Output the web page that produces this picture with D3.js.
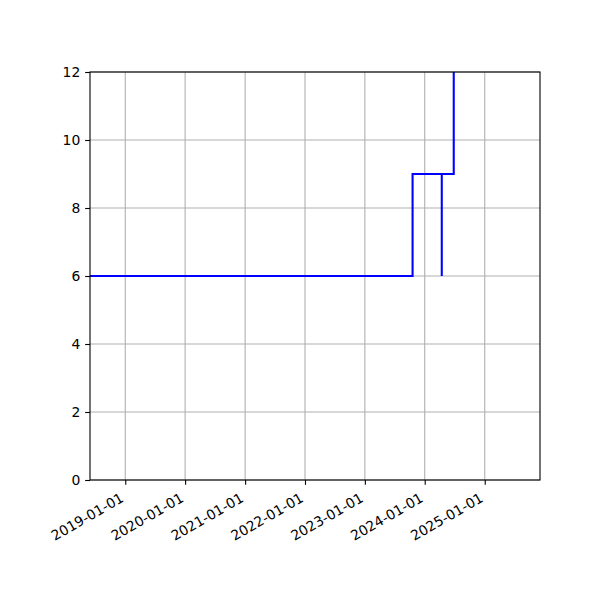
<!DOCTYPE html>
<html>
<head>
<meta charset="utf-8">
<script src="https://cdn.jsdelivr.net/npm/d3@7"></script>
<style>
  body { margin: 0; background: #fff; }
  text { font-family: "DejaVu Sans", sans-serif; font-size: 13.9px; fill: #000; }
</style>
</head>
<body>
<div class="chart"></div>
<script>
// step series (value holds until next date)
const dates = ['2018-05-31', '2023-10-19', '2024-04-14', '2024-04-14', '2024-06-26', '2025-12-04'];
const values = [6, 9, 6, 9, 15, 15];
const xTicks = ['2019-01-01', '2020-01-01', '2021-01-01', '2022-01-01', '2023-01-01', '2024-01-01', '2025-01-01'];
const yTicks = [0, 2, 4, 6, 8, 10, 12];
const xLimits = ['2018-05-31', '2025-12-04'];
const yLimits = [0, 12];

const parseDate = d3.timeParse('%Y-%m-%d');
const fmt = d3.timeFormat('%Y-%m-%d');
const data = dates.map((d, i) => ({ date: parseDate(d), value: values[i] }));

const svg_width = 600, svg_height = 600;
const margin = { top: 72, right: 60, bottom: 120, left: 90 };
const width = svg_width - margin.left - margin.right;
const height = svg_height - margin.top - margin.bottom;
const tickLen = 4.86, tickPad = 4.86;

const svg = d3.select('.chart').append('svg')
  .attr('width', svg_width).attr('height', svg_height);
const g = svg.append('g').attr('transform', `translate(${margin.left},${margin.top})`);

const x = d3.scaleTime().domain(xLimits.map(parseDate)).range([0, width]);
const y = d3.scaleLinear().domain(yLimits).range([height, 0]);

// grid
g.append('g').selectAll('line').data(xTicks.map(parseDate)).join('line')
  .attr('x1', d => x(d)).attr('x2', d => x(d)).attr('y1', 0).attr('y2', height)
  .attr('stroke', '#b0b0b0').attr('stroke-width', 1.1);
g.append('g').selectAll('line').data(yTicks).join('line')
  .attr('x1', 0).attr('x2', width).attr('y1', d => y(d)).attr('y2', d => y(d))
  .attr('stroke', '#b0b0b0').attr('stroke-width', 1.1);

// line
svg.append('clipPath').attr('id', 'clip').append('rect')
  .attr('width', width).attr('height', height);
const line = d3.line().x(d => x(d.date)).y(d => y(d.value)).curve(d3.curveStepAfter);
g.append('path').datum(data)
  .attr('clip-path', 'url(#clip)')
  .attr('d', line)
  .attr('fill', 'none').attr('stroke', 'blue').attr('stroke-width', 2.08);

// axes
const xAxis = d3.axisBottom(x).tickValues(xTicks.map(parseDate)).tickFormat(fmt)
  .tickSizeInner(tickLen).tickSizeOuter(0).tickPadding(tickPad);
const xg = g.append('g').attr('transform', `translate(0,${height})`).call(xAxis);
// rotated labels, right end tucked under the tick like autofmt_xdate
xg.selectAll('.tick text')
  .attr('text-anchor', 'end')
  .attr('x', 0).attr('y', 0).attr('dy', 0)
  .attr('transform', `translate(-1,${tickLen + tickPad + 11}) rotate(-30)`);

const yAxis = d3.axisLeft(y).tickValues(yTicks).tickSizeInner(tickLen).tickSizeOuter(0).tickPadding(tickPad);
g.append('g').call(yAxis);

g.selectAll('.domain').remove();
g.selectAll('.tick line').attr('stroke', '#000').attr('stroke-width', 1.1);
g.selectAll('.tick text').style('font-family', '"DejaVu Sans", sans-serif').style('font-size', '13.9px');

// frame
g.append('rect').attr('width', width).attr('height', height)
  .attr('fill', 'none').attr('stroke', '#000').attr('stroke-width', 1.1);
</script>
</body>
</html>
